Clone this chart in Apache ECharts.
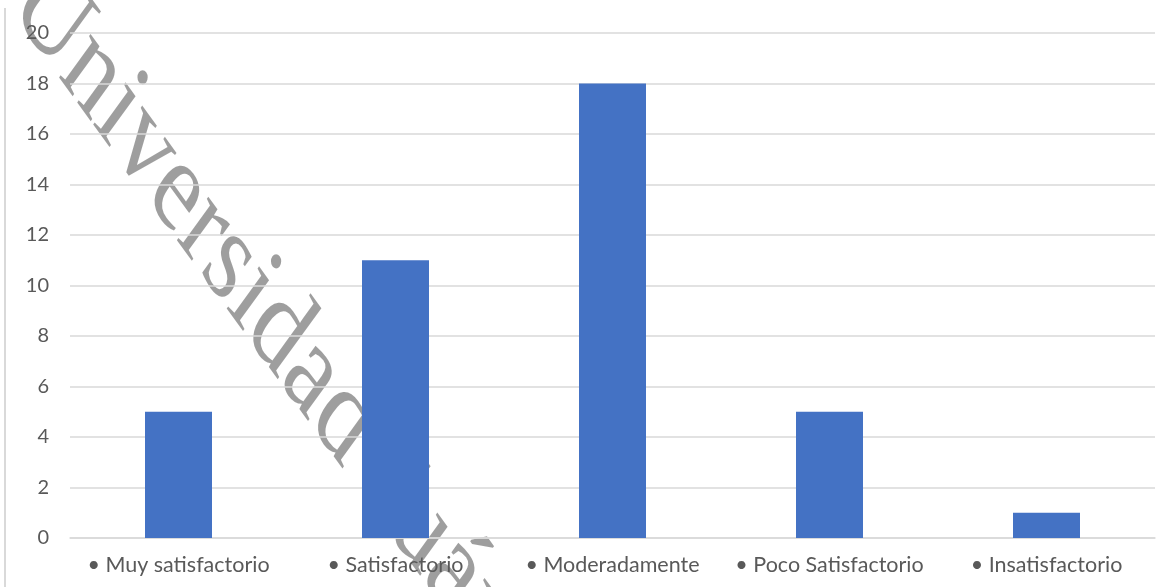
<!DOCTYPE html>
<html>
<head>
<meta charset="utf-8">
<script src="https://cdn.jsdelivr.net/npm/echarts@6/dist/echarts.min.js"></script>
<style>
html,body{margin:0;padding:0;background:#fff;}
#c{width:1172px;height:587px;}
</style>
</head>
<body>
<div id="c"></div>
<script>
const categories = ['Muy satisfactorio', 'Satisfactorio', 'Moderadamente', 'Poco Satisfactorio', 'Insatisfactorio'];
const values = [5, 11, 18, 5, 1];
const yTicks = { min: 0, max: 20, interval: 2 };
const watermarkText = 'Universidad Juárez';

const chart = echarts.init(document.getElementById('c'), null, { renderer: 'canvas' });
const F = 97;
chart.setOption({
  animation: false,
  backgroundColor: '#ffffff',
  grid: { left: 70, right: 17, top: 33, bottom: 49, containLabel: false },
  xAxis: {
    type: 'category',
    data: categories,
    axisLine: { show: true, lineStyle: { color: '#d9d9d9', width: 1.5 } },
    axisTick: { show: false },
    axisLabel: {
      color: '#595959', fontSize: 21.5, fontFamily: 'Lato', margin: 16,
      interval: 0,
      formatter: v => '• ' + v
    }
  },
  yAxis: {
    type: 'value',
    min: yTicks.min, max: yTicks.max, interval: yTicks.interval,
    axisLine: { show: false },
    axisTick: { show: false },
    splitLine: { lineStyle: { color: '#d9d9d9', width: 1.5 } },
    axisLabel: { color: '#595959', fontSize: 20, fontFamily: 'Lato', margin: 21 }
  },
  series: [{
    type: 'bar',
    data: values,
    barWidth: 67,
    itemStyle: { color: '#4472c4' }
  }],
  graphic: [
    {
      type: 'line', z: 5,
      shape: { x1: 5, y1: 8, x2: 5, y2: 587 },
      style: { stroke: '#d9d9d9', lineWidth: 2 }
    },
    {
      type: 'group', z: 100, x: 0, y: 0, scaleX: 1, scaleY: 1.38,
      children: [{
        type: 'text',
        x: 26, y: -13,
        rotation: -Math.PI / 4,
        style: {
          text: watermarkText,
          fontSize: F,
          fontFamily: 'Liberation Serif',
          fill: 'rgba(0,0,0,0.38)',
          align: 'left',
          verticalAlign: 'middle'
        }
      }]
    }
  ]
});
</script>
</body>
</html>
